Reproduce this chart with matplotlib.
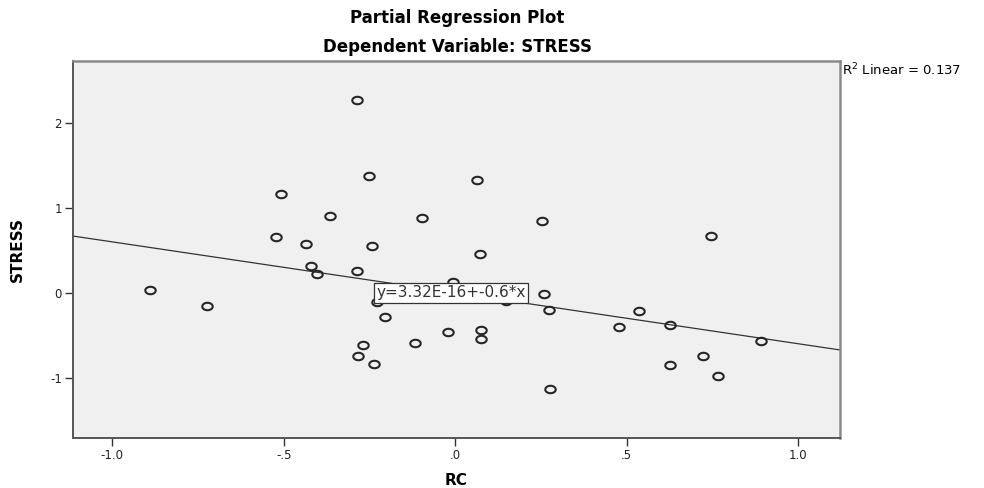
import numpy as np
import matplotlib.pyplot as plt
from matplotlib.path import Path

# residuals
rc = [-0.889, -0.723, -0.508, -0.522, -0.435, -0.366, -0.421, -0.402,
      -0.286, -0.251, -0.241, -0.287, -0.228, -0.204, -0.268, -0.283,
      -0.238, -0.117, -0.097, -0.007, -0.020, 0.065, 0.071, 0.074,
      0.074, 0.149, 0.252, 0.259, 0.274, 0.277, 0.479, 0.535,
      0.626, 0.625, 0.722, 0.747, 0.765, 0.892]
stress = [0.03, -0.16, 1.16, 0.66, 0.57, 0.906, 0.31, 0.22,
          2.27, 1.37, 0.553, 0.26, -0.11, -0.29, -0.61, -0.74,
          -0.84, -0.59, 0.88, 0.13, -0.46, 1.33, 0.455, -0.44,
          -0.55, -0.10, 0.84, -0.02, -0.20, -1.13, -0.40, -0.22,
          -0.38, -0.855, -0.74, 0.67, -0.985, -0.565]

intercept = 3.32e-16
slope = -0.6
r2 = 0.137

xticks = [-1.0, -0.5, 0.0, 0.5, 1.0]
xticklabels = ['-1.0', '-.5', '.0', '.5', '1.0']
yticks = [-1, 0, 1, 2]
yticklabels = ['-1', '0', '1', '2']

plt.rcParams['font.family'] = ['DejaVu Sans']

fig = plt.figure(figsize=(9.84, 4.88), dpi=100)
ax = fig.add_axes([0.0742, 0.1025, 0.7795, 0.7725])
ax.set_facecolor('#f0f0f0')

xlim = (-1.114, 1.122)
ax.set_xlim(*xlim)
ax.set_ylim(-1.71, 2.73)

# wide ellipse marker (the source image is stretched sideways)
t = np.linspace(0, 2 * np.pi, 60)
ell = Path(np.column_stack([1.4 * np.cos(t), np.sin(t)]), closed=True)

xs = np.array(xlim)
ax.plot(xs, intercept + slope * xs, color='#333333', lw=0.9, zorder=2)
ax.plot(rc, stress, linestyle='none', marker=ell, markersize=7.5,
        markerfacecolor='none', markeredgecolor='#262626',
        markeredgewidth=1.5, zorder=3)

ax.text(-0.229, 0.0, 'y=3.32E-16+-0.6*x', fontsize=11, color='#333333',
        ha='left', va='center', zorder=4,
        bbox=dict(boxstyle='square,pad=0.15', fc='white', ec='#333333', lw=0.9))

for s in ['left', 'bottom']:
    ax.spines[s].set_color('#555555')
    ax.spines[s].set_linewidth(1.4)
for s in ['top', 'right']:
    ax.spines[s].set_color('#8a8a8a')
    ax.spines[s].set_linewidth(1.8)

ax.set_xticks(xticks)
ax.set_xticklabels(xticklabels)
ax.set_yticks(yticks)
ax.set_yticklabels(yticklabels)
ax.tick_params(direction='out', length=6, width=1, color='#333333',
               labelsize=8.5, labelcolor='#222222', pad=2)

ax.set_xlabel('RC', fontsize=11, fontweight='bold', labelpad=8)
ax.set_ylabel('STRESS', fontsize=11, fontweight='bold', labelpad=18)

fig.text(0.465, 0.963, 'Partial Regression Plot', fontsize=12, fontweight='bold',
         ha='center', va='center')
fig.text(0.465, 0.904, 'Dependent Variable: STRESS', fontsize=12, fontweight='bold',
         ha='center', va='center')

ax.text(1.003, 0.975, '$\\mathregular{R^2}$ Linear = %.3f' % r2, transform=ax.transAxes,
        fontsize=9.5, ha='left', va='center')

fig.savefig('out.png', dpi=100)
